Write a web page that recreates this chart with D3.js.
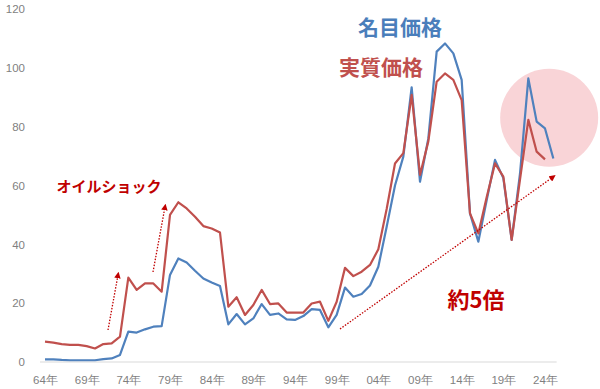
<!DOCTYPE html>
<html>
<head>
<meta charset="utf-8">
<script src="https://cdn.jsdelivr.net/npm/d3@7"></script>
<style>
  body { margin: 0; background: #fff; }
  svg { display: block; font-family: "Noto Sans", "Noto Sans CJK JP", sans-serif; }
  .tick text { fill: #7f7f7f; font-size: 11.5px; }
</style>
</head>
<body>
<svg id="chart" width="600" height="389"></svg>
<script>
// years 1964..2025
const years = d3.range(1964, 2026);

// 名目価格 (nominal)
const nominal = [
    0.9, 0.9, 0.7, 0.6, 0.6, 0.6, 0.6, 1.0, 1.2, 2.4,
    10.3, 10.0, 11.1, 12.0, 12.2, 29.6, 35.2, 33.8, 31.0, 28.4,
    27.0, 25.8, 12.8, 16.3, 12.8, 14.8, 19.7, 16.0, 16.5, 14.5,
    14.3, 15.6, 18.0, 17.7, 11.8, 16.0, 25.3, 22.2, 23.1, 26.0,
    32.4, 46.0, 60.0, 69.8, 93.4, 61.3, 76.0, 105.5, 108.3, 104.9,
    95.9, 50.5, 40.9, 55.0, 68.7, 62.5, 41.5, 64.0, 96.4, 81.7,
    79.4, 69.2
];

// 実質価格 (real), no value for 2025
const real = [
    6.9, 6.6, 6.1, 5.8, 5.8, 5.4, 4.6, 6.1, 6.3, 8.6,
    28.7, 24.5, 26.7, 26.7, 23.9, 50.0, 54.3, 52.2, 49.4, 46.2,
    45.4, 44.0, 18.8, 22.0, 16.0, 19.4, 24.5, 19.7, 19.9, 16.8,
    16.8, 16.8, 19.9, 20.5, 14.0, 20.5, 32.0, 29.2, 30.7, 33.0,
    38.3, 52.0, 67.5, 71.0, 90.8, 63.6, 75.0, 95.3, 98.1, 95.9,
    89.0, 50.5, 43.7, 56.0, 67.5, 63.0, 41.5, 62.0, 82.3, 71.5,
    68.9, null
];

const xTicks = d3.range(1964, 2025, 5);
const yTicks = [0, 20, 40, 60, 80, 100, 120];

const svg = d3.select('#chart');

const x = d3.scaleLinear().domain([1964, 2024]).range([45, 545]);
const y = d3.scaleLinear().domain([0, 120]).range([362, 9]);

// highlight circle (behind lines)
svg.append('circle')
    .attr('cx', x(2024.5))
    .attr('cy', y(83))
    .attr('r', 49)
    .style('fill', '#f9d4d7');

// y axis labels only
const yAxis = svg.append('g')
    .attr('transform', 'translate(27,0)')
    .call(d3.axisLeft(y).tickValues(yTicks).tickSize(0).tickPadding(2));
yAxis.select('.domain').remove();

// x axis
const xAxis = svg.append('g')
    .attr('transform', `translate(0,${y(0)})`)
    .call(d3.axisBottom(x)
        .tickValues(xTicks)
        .tickSize(0)
        .tickPadding(14)
        .tickFormat(d => String(d % 100).padStart(2, '0') + '年'));
xAxis.select('.domain').remove();

svg.append('line')
    .attr('x1', x(1963.4)).attr('x2', x(2025.4))
    .attr('y1', y(0)).attr('y2', y(0))
    .style('stroke', '#d9d9d9')
    .style('stroke-width', 1);

const line = d3.line()
    .defined(d => d[1] !== null)
    .x(d => x(d[0]))
    .y(d => y(d[1]));

svg.append('path')
    .datum(years.map((yr, i) => [yr, nominal[i]]))
    .attr('d', line)
    .style('fill', 'none')
    .style('stroke', '#4f81bd')
    .style('stroke-width', 2.2)
    .style('stroke-linejoin', 'round');

svg.append('path')
    .datum(years.map((yr, i) => [yr, real[i]]))
    .attr('d', line)
    .style('fill', 'none')
    .style('stroke', '#c0504d')
    .style('stroke-width', 2.2)
    .style('stroke-linejoin', 'round');

// arrows
svg.append('defs')
    .append('marker')
    .attr('id', 'arrow')
    .attr('viewBox', '0 0 10 10')
    .attr('refX', 5)
    .attr('refY', 5)
    .attr('markerWidth', 5)
    .attr('markerHeight', 5)
    .attr('orient', 'auto')
    .append('path')
    .attr('d', 'M0,0 L10,5 L0,10 Z')
    .style('fill', '#c00000');

const arrows = [
    [[108, 330], [118, 275]],
    [[153, 272], [165, 207]],
    [[340, 329], [553, 177]]
];

svg.selectAll('line.arrow')
    .data(arrows)
    .enter()
    .append('line')
    .classed('arrow', true)
    .attr('x1', d => d[0][0]).attr('y1', d => d[0][1])
    .attr('x2', d => d[1][0]).attr('y2', d => d[1][1])
    .style('stroke', '#c00000')
    .style('stroke-width', 1.3)
    .style('stroke-dasharray', '1.5,1.5')
    .attr('marker-end', 'url(#arrow)');

// annotations
const notes = [
    {text: '名目価格', x: 400, y: 35, size: 21, color: '#4a7ebb'},
    {text: '実質価格', x: 381, y: 75, size: 21, color: '#c0504d'},
    {text: 'オイルショック', x: 109, y: 192, size: 15, color: '#c00000'},
    {text: '約5倍', x: 476, y: 308, size: 22, color: '#c00000'}
];

svg.selectAll('text.note')
    .data(notes)
    .enter()
    .append('text')
    .classed('note', true)
    .attr('x', d => d.x)
    .attr('y', d => d.y)
    .attr('text-anchor', 'middle')
    .style('font-family', '"Noto Sans CJK JP", sans-serif')
    .style('font-weight', 'bold')
    .style('font-size', d => d.size + 'px')
    .style('fill', d => d.color)
    .text(d => d.text);
</script>
</body>
</html>
